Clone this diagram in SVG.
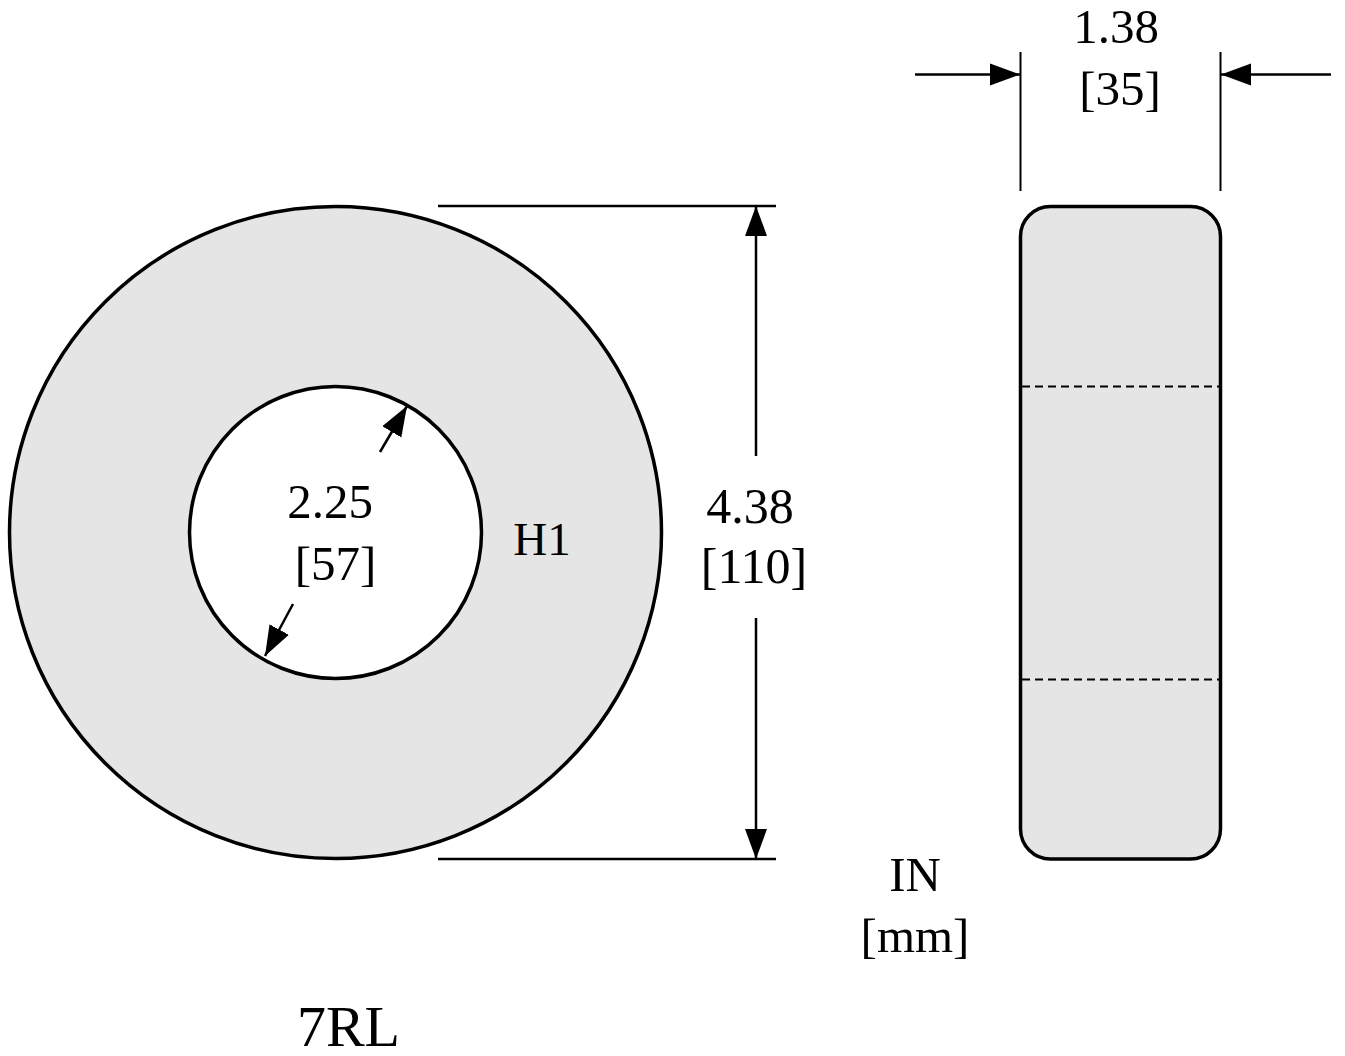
<svg xmlns="http://www.w3.org/2000/svg" width="1345" height="1056" viewBox="0 0 1345 1056">
<style>
.t{font-family:"Liberation Serif","Times New Roman",serif;font-size:49px;fill:#000;text-anchor:middle}
.m{font-size:50px}
.s{fill:#e5e5e5;stroke:#000;stroke-width:3.5}
.l{fill:none;stroke:#000;stroke-width:2.500}
.e{fill:none;stroke:#000;stroke-width:2}
.d{fill:none;stroke:#000;stroke-width:2;stroke-dasharray:8 5}
</style>
<defs>
<marker id="a" markerUnits="userSpaceOnUse" markerWidth="32" markerHeight="24" refX="30" refY="11" orient="auto" viewBox="0 0 32 22"><path d="M0 0L30 11L0 22Z" fill="#000"/></marker>
</defs>
<rect width="1345" height="1056" fill="#fff"/>
<g id="toroid-front">
<circle class="s" cx="335.500" cy="532.500" r="326"/>
<circle cx="335.500" cy="532.500" r="146" fill="#fff" stroke="#000" stroke-width="3.500"/>
</g>
<g id="toroid-side">
<rect class="s" x="1020.500" y="206.500" width="200" height="652.500" rx="30" ry="30"/>
<line class="d" x1="1022" y1="386.500" x2="1219" y2="386.500"/>
<line class="d" x1="1022" y1="679.500" x2="1219" y2="679.500"/>
</g>
<g id="connectors">
<line class="l" x1="438" y1="206" x2="776" y2="206"/>
<line class="l" x1="438" y1="859" x2="776" y2="859"/>
<line class="l" x1="756" y1="456" x2="756" y2="206" marker-end="url(#a)"/>
<line class="l" x1="756" y1="618" x2="756" y2="859" marker-end="url(#a)"/>
<line class="e" x1="1020.500" y1="52" x2="1020.500" y2="191"/>
<line class="e" x1="1220.500" y1="52" x2="1220.500" y2="191"/>
<line class="l" x1="915" y1="74.500" x2="1020" y2="74.500" marker-end="url(#a)"/>
<line class="l" x1="1331" y1="74.500" x2="1221" y2="74.500" marker-end="url(#a)"/>
<line class="l" x1="380" y1="452" x2="407" y2="406" marker-end="url(#a)"/>
<line class="l" x1="293" y1="604" x2="265" y2="656" marker-end="url(#a)"/>
</g>
<g id="labels">
<text class="t" x="1116" y="43">1.38</text>
<text class="t" x="1120" y="105">[35]</text>
<text class="t" x="330" y="518">2.25</text>
<text class="t" x="335.500" y="580">[57]</text>
<text class="t" x="542" y="555" style="font-size:47px">H1</text>
<text class="t m" x="750" y="523">4.38</text>
<text class="t m" x="754" y="583">[110]</text>
<text class="t" x="915" y="891">IN</text>
<text class="t" x="915" y="952">[mm]</text>
<text class="t" x="348.500" y="1046" style="font-size:58px">7RL</text>
</g>
</svg>
